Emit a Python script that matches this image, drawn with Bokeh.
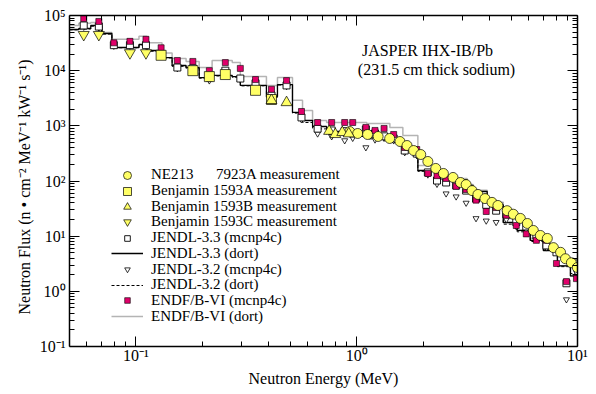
from bokeh.plotting import figure
from bokeh.models import (LogAxis, FixedTicker, CustomJSTickFormatter, Legend,
                          LegendItem, Label, Range1d)
from bokeh.embed import file_html
from bokeh.resources import INLINE

# ---------------- data ----------------
# DORT group boundaries (MeV) and group fluxes
dort_bounds = [0.05, 0.0551, 0.0624, 0.0701, 0.0778, 0.1032, 0.1122, 0.1312, 0.1458,
               0.1687, 0.1934, 0.2213, 0.2730, 0.2970, 0.3899, 0.4375, 0.5117, 0.5682,
               0.631, 0.7305, 1.0, 1.11, 1.413, 1.618, 1.892, 2.31, 2.73, 3.162, 3.367,
               3.90, 4.61, 5.33, 6.11, 7.0, 8.11, 9.29, 10.0]
jendl33_dort = [5.58e4, 5.81e4, 6.59e4, 4.72e4, 2.63e4, 2.98e4, 2.32e4, 1.73e4, 1.24e4,
                1.14e4, 7.5e3, 8.2e3, 7.8e3, 5.4e3, 3.4e3, 5.6e3, 1.75e3, 1.25e3, 973,
                790, 727, 641, 542, 388, 155, 116, 106, 83, 64.5, 37, 17.7, 12.7, 8.4,
                5.5, 2.9, 1.9]
jendl32_dort = [5.5e4, 5.7e4, 6.4e4, 4.6e4, 2.6e4, 2.9e4, 2.25e4, 1.7e4, 1.2e4, 1.1e4,
                7.3e3, 8.0e3, 7.6e3, 5.3e3, 3.3e3, 5.5e3, 1.7e3, 1.15e3, 880, 700, 640,
                580, 500, 370, 150, 108, 95, 74, 58, 34, 16.5, 12, 8.0, 5.6, 2.8, 2.1]
endf_dort = [6.6e4, 7.2e4, 7.5e4, 4.9e4, 3.7e4, 4.2e4, 3.2e4, 2.1e4, 1.66e4, 1.47e4,
             1.14e4, 1.53e4, 1.4e4, 7.8e3, 5.4e3, 7.5e3, 2.9e3, 1.9e3, 1.25e3, 1.15e3,
             1.15e3, 1.1e3, 935, 670, 190, 127, 111, 86, 68, 41, 21, 12.7, 9.2, 6.2,
             2.9, 1.87]

# MCNP tally energies (MeV)
mcnp_e = [0.058, 0.0679, 0.0794, 0.0939, 0.111, 0.130, 0.154, 0.181, 0.215, 0.254,
          0.297, 0.348, 0.411, 0.481, 0.562, 0.665, 0.770, 0.882, 0.959, 1.10, 1.21,
          1.33, 1.47, 1.65, 1.87, 2.10, 2.31, 2.54, 2.82, 3.13, 3.47, 3.86, 4.28, 4.76,
          5.28, 5.86, 6.51, 7.23, 8.03, 8.91, 9.89]
jendl33_mcnp = [6.6e4, 6.3e4, 2.9e4, 2.9e4, 2.9e4, 2.0e4, 1.14e4, 1.1e4, 7.5e3, 1.0e4,
                7.2e3, 5.9e3, 3.55e3, 5.4e3, 1.42e3, 890, 825, 800, 727, 860, 727, 645,
                590, 357, 314, 143, 102, 94, 83, 67, 48, 37, 29, 25, 18, 15, 10.3, 6.8,
                5.1, 1.4, 3.2]
jendl32_mcnp = [6.2e4, 6.0e4, 2.8e4, 2.8e4, 2.8e4, 1.9e4, 1.1e4, 1.05e4, 6.6e3, 9.5e3,
                7.0e3, 5.6e3, 3.4e3, 5.2e3, 1.3e3, 720, 640, 542, 600, 405, 560, 600,
                540, 330, 290, 130, 88, 59, 52, 40, 21, 19, 17.9, 20, 15, 13, 9.0, 6.2,
                5.5, 0.71, 2.2]
endf_mcnp = [8.8e4, 7.8e4, 3.2e4, 3.4e4, 3.7e4, 2.6e4, 1.53e4, 1.47e4, 1.0e4, 1.4e4,
             1.1e4, 6.9e3, 4.6e3, 6.6e3, 1.82e3, 1.15e3, 1.15e3, 1.15e3, 1.15e3, 935,
             825, 896, 697, 405, 372, 137, 125, 111, 80, 70, 45, 28, 33, 24, 15.6, 11,
             8.4, 8.4, 3.2, 1.5, 1.7]

# Measurements
ne213_e = [0.93, 1.01, 1.12, 1.25, 1.41, 1.57, 1.69, 1.81, 1.95, 2.10, 2.28, 2.47, 2.73,
           2.95, 3.13, 3.33, 3.54, 3.81, 4.10, 4.36, 4.80, 5.12, 5.51, 5.93, 6.31, 6.79,
           7.30, 7.78, 8.38, 8.82, 9.38, 9.98]
ne213_f = [789, 727, 697, 641, 590, 520, 440, 357, 302, 226, 169, 137, 116, 94, 86, 67,
           57, 48, 41, 36, 29, 25, 21, 17, 12.7, 10.3, 9.1, 6.2, 5.1, 3.9, 3.3, 2.7]
ben_a_e = [0.130, 0.181, 0.215, 0.254, 0.348, 0.411]
ben_a_f = [1.9e4, 1.0e4, 7.8e3, 8.5e3, 4.4e3, 3.0e3]
ben_b_e = [0.411, 0.481, 0.75, 0.80, 0.86, 0.92]
ben_b_f = [2.9e3, 2.65e3, 800, 700, 760, 720]
ben_c_e = [0.058, 0.0679, 0.0939, 0.111]
ben_c_f = [4.5e4, 4.5e4, 2.1e4, 2.1e4]

legend_labels = ["NE213" + "\u00a0" * 6 + "7923A measurement",
                 "Benjamin 1593A measurement", "Benjamin 1593B measurement",
                 "Benjamin 1593C measurement", "JENDL-3.3 (mcnp4c)", "JENDL-3.3 (dort)",
                 "JENDL-3.2 (mcnp4c)", "JENDL-3.2 (dort)", "ENDF/B-VI (mcnp4c)",
                 "ENDF/B-VI (dort)"]

x_major = [0.1, 1, 10]
x_minor = [0.06, 0.07, 0.08, 0.09, 0.2, 0.3, 0.4, 0.5, 0.6, 0.7, 0.8, 0.9,
           2, 3, 4, 5, 6, 7, 8, 9]
y_major = [0.1, 1, 10, 100, 1000, 1e4, 1e5]
y_minor = [m * d for d in [0.1, 1, 10, 100, 1000, 1e4] for m in range(2, 10)]

FONT = "Liberation Serif"
YELLOW = "#ffff66"
MAGENTA = "#e0006a"

# ---------------- figure ----------------
p = figure(width=583, height=392, x_axis_type="log", y_axis_type="log",
           x_range=Range1d(0.05, 10), y_range=Range1d(0.1, 1e5),
           output_backend="svg", toolbar_location=None,
           min_border_left=58, min_border_right=17, min_border_top=15,
           min_border_bottom=46)
p.margin = (0, 0, 0, 11)
p.xgrid.visible = False
p.ygrid.visible = False
p.outline_line_color = None
p.background_fill_color = "white"

sup_code = """
const sup = {"-":"\u207b","0":"\u2070","1":"\u00b9","2":"\u00b2","3":"\u00b3","4":"\u2074",
             "5":"\u2075","6":"\u2076","7":"\u2077","8":"\u2078","9":"\u2079"};
const e = Math.round(Math.log10(tick));
return "10" + String(e).split("").map(c => sup[c]).join("");
"""

def style_axis(ax, labels=True):
    ax.axis_line_color = "black"
    ax.axis_line_width = 1.5
    ax.major_tick_in = 10
    ax.major_tick_out = 0
    ax.minor_tick_in = 5
    ax.minor_tick_out = 0
    ax.major_tick_line_color = "black"
    ax.minor_tick_line_color = "black"
    if labels:
        ax.formatter = CustomJSTickFormatter(code=sup_code)
        ax.major_label_text_font = FONT
        ax.major_label_text_font_size = "16px"
        ax.major_label_text_color = "black"
        ax.axis_label_text_font = FONT
        ax.axis_label_text_font_size = "16px"
        ax.axis_label_text_font_style = "normal"
        ax.axis_label_text_color = "black"
    else:
        ax.formatter = CustomJSTickFormatter(code="return '';")
        ax.major_label_text_font_size = "1px"
        ax.major_label_standoff = 0

xt = FixedTicker(ticks=x_major, minor_ticks=x_minor)
yt = FixedTicker(ticks=y_major, minor_ticks=y_minor)
p.xaxis[0].ticker = xt
p.yaxis[0].ticker = yt
style_axis(p.xaxis[0])
style_axis(p.yaxis[0])
p.xaxis[0].axis_label = "Neutron Energy (MeV)"
p.yaxis[0].axis_label = ("Neutron Flux (n \u2022 cm\u207b\u00b2 MeV\u207b\u00b9 kW\u207b\u00b9 s\u207b\u00b9)"
                         + "\u00a0" * 3)
p.xaxis[0].major_label_standoff = 0
p.yaxis[0].major_label_standoff = 4
p.xaxis[0].axis_label_standoff = 3
p.yaxis[0].axis_label_standoff = 4

top = LogAxis(ticker=xt)
right = LogAxis(ticker=yt)
style_axis(top, labels=False)
style_axis(right, labels=False)
p.add_layout(top, "above")
p.add_layout(right, "right")

# step lines
def ext(v):
    return list(v) + [v[-1]]

r_endf_d = p.step(dort_bounds, ext(endf_dort), mode="after", line_color="#b4b4b4", line_width=1.5)
r_j32_d = p.step(dort_bounds, ext(jendl32_dort), mode="after", line_color="black",
                 line_width=1, line_dash="3 2")
r_j33_d = p.step(dort_bounds, ext(jendl33_dort), mode="after", line_color="black", line_width=1.3)

# MCNP points
r_j32_m = p.scatter(mcnp_e, jendl32_mcnp, marker="inverted_triangle", size=6,
                    fill_color="white", line_color="black", line_width=0.8)
r_j33_m = p.scatter(mcnp_e, jendl33_mcnp, marker="square", size=7,
                    fill_color="white", line_color="black", line_width=0.9)
r_endf_m = p.scatter(mcnp_e, endf_mcnp, marker="square", size=6,
                     fill_color=MAGENTA, line_color="black", line_width=0.6)

# measurements
r_ne = p.scatter(ne213_e, ne213_f, marker="circle", size=10, fill_color=YELLOW,
                 line_color="black", line_width=0.7)
r_ba = p.scatter(ben_a_e, ben_a_f, marker="square", size=10, fill_color=YELLOW,
                 line_color="black", line_width=0.7)
r_bb = p.scatter(ben_b_e, ben_b_f, marker="triangle", size=11, fill_color=YELLOW,
                 line_color="black", line_width=0.7)
r_bc = p.scatter(ben_c_e, ben_c_f, marker="inverted_triangle", size=11, fill_color=YELLOW,
                 line_color="black", line_width=0.7)

# legend: one single-row legend per entry so the row pitch can be set exactly
legend_renderers = [r_ne, r_ba, r_bb, r_bc, r_j33_m, r_j33_d, r_j32_m, r_j32_d,
                    r_endf_m, r_endf_d]
legend_glyph_h = [20, 20, 19, 19, 14, 16, 14, 16, 14, 16]
row0, pitch = 162.5, 15.67   # offsets (px) from the frame bottom
for i, (lab, rend, gh) in enumerate(zip(legend_labels, legend_renderers, legend_glyph_h)):
    item_h = max(gh, 17.1)
    lg = Legend(items=[LegendItem(label=lab, renderers=[rend])],
                location=(42, row0 - i * pitch - (item_h - 17.1) / 2),
                orientation="vertical",
                background_fill_alpha=0, border_line_alpha=0,
                label_text_font=FONT, label_text_font_size="15px",
                label_text_color="black", glyph_width=32, glyph_height=gh,
                label_height=16, spacing=0, padding=0, margin=0, label_standoff=8)
    p.add_layout(lg)

for txt, lx, ly in [("JASPER IHX-IB/Pb", 358, 296),
                    ("(231.5 cm thick sodium)", 367, 277)]:
    p.add_layout(Label(x=lx, y=ly, x_units="screen", y_units="screen", text=txt,
                       text_font=FONT, text_font_size="16px", text_color="black",
                       text_align="center", text_baseline="middle"))

open("out.html", "w").write(file_html(p, INLINE))
